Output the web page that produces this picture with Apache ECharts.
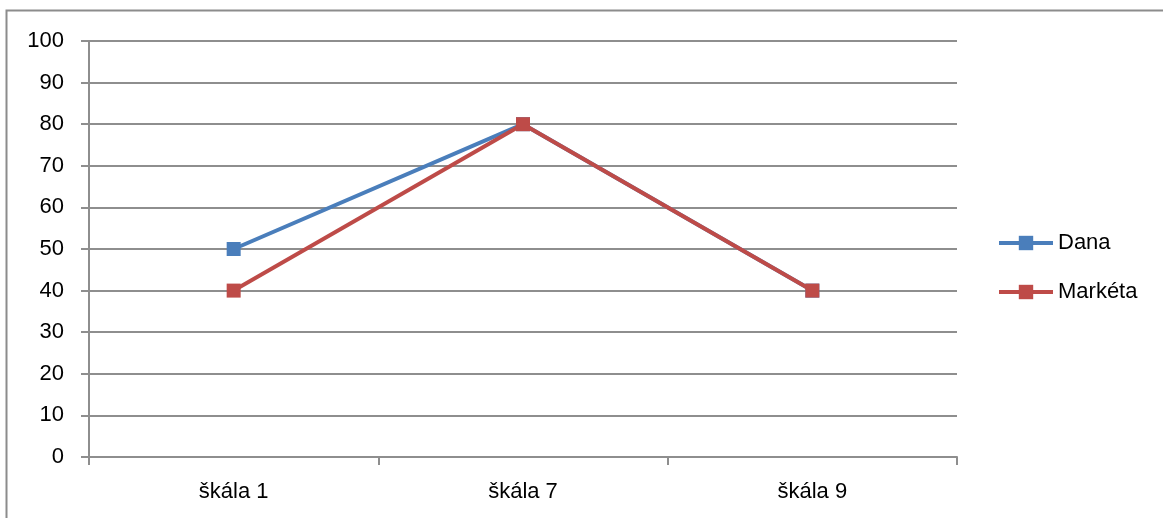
<!DOCTYPE html>
<html>
<head>
<meta charset="utf-8">
<script src="https://cdn.jsdelivr.net/npm/echarts@6/dist/echarts.min.js"></script>
<style>
  html, body { margin: 0; padding: 0; background: #fff; }
  #chart { width: 1163px; height: 518px; }
</style>
</head>
<body>
<div id="chart"></div>
<script>
// Category labels and values for each person
const categories = ['škála 1', 'škála 7', 'škála 9'];
const dana = [50, 80, 40];
const marketa = [40, 80, 40];
const seriesNames = ['Dana', 'Markéta'];

const FONT = 'Liberation Sans, Arial, sans-serif';
const FONT_SIZE = 22;
const gridColor = '#8e8e8e';

const chart = echarts.init(document.getElementById('chart'), null, { renderer: 'canvas' });

chart.setOption({
  animation: false,
  backgroundColor: '#ffffff',
  graphic: [{
    type: 'rect',
    shape: { x: 6.5, y: 10.5, width: 1300, height: 700 },
    style: { fill: 'none', stroke: '#8c8c8c', lineWidth: 2 },
    silent: true
  }],
  grid: { left: 89, right: 206, top: 41, bottom: 61, containLabel: false },
  legend: {
    orient: 'vertical',
    left: 997,
    top: 232,
    padding: 0,
    itemWidth: 54,
    itemHeight: 18,
    itemGap: 27,
    lineStyle: { width: 4 },
    textStyle: { fontFamily: FONT, fontSize: FONT_SIZE, color: '#000' },
    data: seriesNames
  },
  xAxis: {
    type: 'category',
    data: categories,
    boundaryGap: true,
    axisLine: { lineStyle: { color: gridColor, width: 2 } },
    axisTick: { show: true, length: 8, lineStyle: { color: gridColor, width: 2 } },
    axisLabel: { fontFamily: FONT, fontSize: FONT_SIZE, color: '#000', margin: 24 }
  },
  yAxis: {
    type: 'value',
    min: 0,
    max: 100,
    interval: 10,
    axisLine: { show: true, lineStyle: { color: gridColor, width: 2 } },
    axisTick: { show: true, length: 8, lineStyle: { color: gridColor, width: 2 } },
    splitLine: { show: true, lineStyle: { color: gridColor, width: 2 } },
    axisLabel: { fontFamily: FONT, fontSize: FONT_SIZE, color: '#000', margin: 25 }
  },
  series: [
    {
      name: seriesNames[0],
      type: 'line',
      data: dana,
      symbol: 'rect',
      symbolSize: 14,
      lineStyle: { color: '#4a7ebb', width: 4 },
      itemStyle: { color: '#4a7ebb' },
      z: 2
    },
    {
      name: seriesNames[1],
      type: 'line',
      data: marketa,
      symbol: 'rect',
      symbolSize: 14,
      lineStyle: { color: '#be4b48', width: 4 },
      itemStyle: { color: '#be4b48' },
      z: 3
    }
  ]
});
</script>
</body>
</html>
